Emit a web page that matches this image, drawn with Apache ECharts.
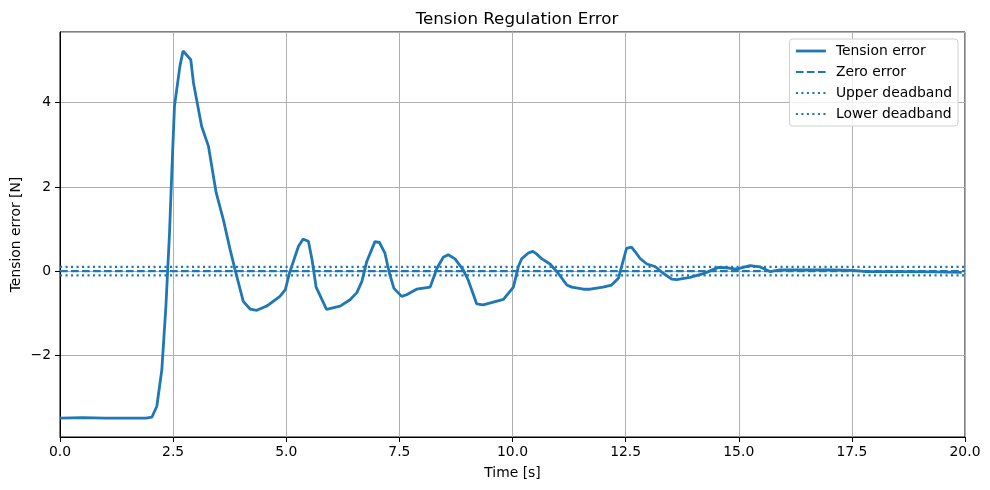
<!DOCTYPE html>
<html>
<head>
<meta charset="utf-8">
<script src="https://cdn.jsdelivr.net/npm/echarts@6/dist/echarts.min.js"></script>
<style>
  html, body { margin: 0; padding: 0; background: #fff; }
  #chart { width: 990px; height: 490px; }
</style>
</head>
<body>
<div id="chart"></div>
<script>
// time samples [s]
const times = [
  0, 0.5, 1.0, 1.5, 1.9, 2.03, 2.14, 2.25, 2.34, 2.42,
  2.47, 2.53, 2.65, 2.72, 2.89, 2.95, 3.13, 3.28, 3.45, 3.61,
  3.76, 3.87, 4.05, 4.2, 4.35, 4.57, 4.86, 4.98, 5.07, 5.27,
  5.37, 5.49, 5.57, 5.66, 5.89, 6.19, 6.41, 6.56, 6.67, 6.78,
  6.96, 7.06, 7.18, 7.28, 7.38, 7.55, 7.66, 7.88, 8.18, 8.33,
  8.47, 8.58, 8.73, 8.91, 9.02, 9.21, 9.35, 9.8, 10.02, 10.13,
  10.2, 10.35, 10.45, 10.53, 10.65, 10.83, 11.01, 11.2, 11.31, 11.57,
  11.72, 12.0, 12.19, 12.34, 12.52, 12.63, 12.74, 12.82, 12.97, 13.15,
  13.33, 13.52, 13.63, 13.92, 14.22, 14.55, 14.73, 14.95, 15.25, 15.47,
  15.69, 15.91, 17.08, 17.53, 17.82, 18.56, 19.3, 19.93
];
// tension error [N]
const tensionError = [
  -3.49, -3.48, -3.49, -3.49, -3.49, -3.47, -3.21, -2.35, -0.84, 0.9,
  2.33, 3.92, 4.87, 5.23, 5.02, 4.47, 3.44, 2.97, 1.87, 1.22,
  0.51, 0.03, -0.72, -0.9, -0.93, -0.83, -0.6, -0.44, -0.05, 0.59,
  0.76, 0.71, 0.27, -0.38, -0.91, -0.83, -0.68, -0.51, -0.25, 0.23,
  0.70, 0.68, 0.43, -0.05, -0.41, -0.6, -0.56, -0.43, -0.38, 0.07,
  0.33, 0.39, 0.29, 0.03, -0.21, -0.78, -0.80, -0.67, -0.38, 0.11,
  0.29, 0.43, 0.47, 0.41, 0.29, 0.17, -0.05, -0.33, -0.38, -0.43,
  -0.43, -0.38, -0.33, -0.17, 0.54, 0.57, 0.42, 0.3, 0.17, 0.11,
  -0.05, -0.19, -0.2, -0.15, -0.06, 0.09, 0.08, 0.05, 0.13, 0.1,
  -0.01, 0.03, 0.03, 0.02, -0.01, -0.01, -0.02, -0.03
];
const xRange = [0, 20];
const yRange = [-3.94, 5.68];
const deadband = 0.1;
const xTickStep = 2.5;

const FONT = 'DejaVu Sans';
const BLUE = '#1f77b4';

function minus(v) {
  return v < 0 ? '\u2212' + Math.abs(v) : String(v);
}

function hline(y) {
  return xRange.map(function (x) { return [x, y]; });
}

let chart = echarts.init(document.getElementById('chart'), null, { renderer: 'canvas' });

chart.setOption({
  animation: false,
  backgroundColor: '#fff',
  textStyle: { fontFamily: FONT },
  title: {
    text: 'Tension Regulation Error',
    left: 512, top: 6, textAlign: 'center',
    textStyle: { fontFamily: FONT, fontSize: 16.7, fontWeight: 'normal', color: '#000' }
  },
  grid: {
    left: 60, right: 25, top: 32, bottom: 53,
    outerBoundsMode: 'none',
    show: true, borderColor: '#000', borderWidth: 1, backgroundColor: 'transparent'
  },
  legend: {
    orient: 'vertical',
    right: 32, top: 39,
    padding: [5, 6, 5, 5],
    itemGap: 7,
    itemWidth: 30, itemHeight: 14,
    backgroundColor: 'rgba(255,255,255,0.8)',
    borderColor: '#d0d0d0', borderWidth: 1, borderRadius: 3,
    itemStyle: { opacity: 0 },   // line only, no marker in the icon
    textStyle: { fontFamily: FONT, fontSize: 13.9, color: '#000', padding: [0, 0, 0, 5] },
    data: [
      { name: 'Tension error', lineStyle: { width: 2.8 } },
      { name: 'Zero error', lineStyle: { width: 2.1 } },
      { name: 'Upper deadband', lineStyle: { width: 2.1 } },
      { name: 'Lower deadband', lineStyle: { width: 2.1 } }
    ]
  },
  xAxis: {
    type: 'value',
    min: xRange[0], max: xRange[1], interval: xTickStep,
    name: 'Time [s]', nameLocation: 'middle', nameGap: 29,
    nameMoveOverlap: false,
    nameTextStyle: { fontFamily: FONT, fontSize: 13.9, color: '#000' },
    axisLine: { show: true, onZero: false, lineStyle: { color: '#000', width: 1 } },
    axisTick: { show: true, length: 5, lineStyle: { color: '#000', width: 1 } },
    axisLabel: {
      margin: 8, fontFamily: FONT, fontSize: 13.9, color: '#000',
      formatter: function (v) { return v.toFixed(1); }
    },
    splitLine: { show: true, lineStyle: { color: '#b0b0b0', width: 1 } }
  },
  yAxis: {
    type: 'value',
    min: yRange[0], max: yRange[1], splitNumber: 5,
    name: 'Tension error [N]', nameLocation: 'middle', nameGap: 37,
    nameMoveOverlap: false,
    nameTextStyle: { fontFamily: FONT, fontSize: 13.9, color: '#000' },
    axisLine: { show: true, onZero: false, lineStyle: { color: '#000', width: 1 } },
    axisTick: { show: true, length: 5, lineStyle: { color: '#000', width: 1 } },
    axisLabel: {
      margin: 9, fontFamily: FONT, fontSize: 13.9, color: '#000',
      showMinLabel: false, showMaxLabel: false,
      formatter: function (v) { return Number.isInteger(v) ? minus(v) : ''; }
    },
    splitLine: { show: true, lineStyle: { color: '#b0b0b0', width: 1 } }
  },
  series: [
    {
      name: 'Tension error', type: 'line', symbol: 'none', smooth: false,
      lineStyle: { color: BLUE, width: 2.8 }, itemStyle: { color: BLUE },
      data: times.map(function (t, i) { return [t, tensionError[i]]; }),
      z: 2
    },
    {
      name: 'Zero error', type: 'line', symbol: 'none',
      lineStyle: { color: BLUE, width: 2.1, type: [7.7, 3.3] }, itemStyle: { color: BLUE },
      data: hline(0), z: 3
    },
    {
      name: 'Upper deadband', type: 'line', symbol: 'none',
      lineStyle: { color: BLUE, width: 2.1, type: [2.1, 3.4] }, itemStyle: { color: BLUE },
      data: hline(deadband), z: 3
    },
    {
      name: 'Lower deadband', type: 'line', symbol: 'none',
      lineStyle: { color: BLUE, width: 2.1, type: [2.1, 3.4] }, itemStyle: { color: BLUE },
      data: hline(-deadband), z: 3
    }
  ]
});
</script>
</body>
</html>
